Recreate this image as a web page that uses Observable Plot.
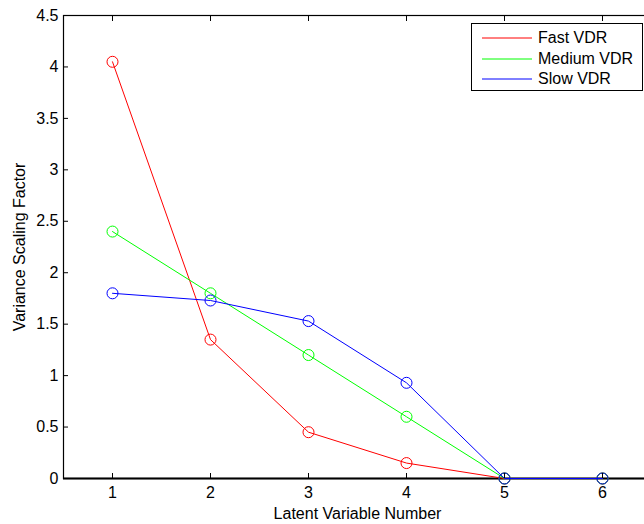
<!DOCTYPE html>
<html><head><meta charset="utf-8">
<script src="https://cdn.jsdelivr.net/npm/d3@7"></script>
<script src="https://cdn.jsdelivr.net/npm/@observablehq/plot@0.6"></script>
<style>
html,body{margin:0;padding:0;overflow:hidden;background:#fff;width:644px;height:524px}
#wrap{position:relative;width:644px;height:524px;overflow:hidden}
#legend{position:absolute;left:471px;top:23px;width:170px;height:66px;border:1.5px solid #000;background:#fff;font:16px "Liberation Sans",Arial,sans-serif;color:#000}
#legend .row{position:absolute;left:0;height:20px;width:170px}
#legend svg{position:absolute;left:10px;top:0}
#legend span{position:absolute;left:66px;top:0px;white-space:nowrap;line-height:20px}
</style></head><body><div id="wrap"></div>
<script>
const latentVariable = [1, 2, 3, 4, 5, 6];
const fastVDR = [4.05, 1.35, 0.45, 0.15, 0, 0];
const mediumVDR = [2.4, 1.8, 1.2, 0.6, 0, 0];
const slowVDR = [1.8, 1.73, 1.53, 0.93, 0, 0];
const seriesNames = ["Fast VDR", "Medium VDR", "Slow VDR"];
const seriesColors = ["#ff0000", "#00ff00", "#0000ff"];
const xTicks = [1, 2, 3, 4, 5, 6];
const yTicks = [0, 0.5, 1, 1.5, 2, 2.5, 3, 3.5, 4, 4.5];
const xLabel = "Latent Variable Number";
const yLabel = "Variance Scaling Factor";

const seriesValues = [fastVDR, mediumVDR, slowVDR];
const data = seriesValues.flatMap((vals, s) =>
  vals.map((v, i) => ({series: seriesNames[s], x: latentVariable[i], y: v})));

const font = '"Liberation Sans", Arial, Helvetica, sans-serif';

const marks = [
  Plot.frame({stroke: "#000", strokeWidth: 1.2}),
  Plot.ruleY([0], {stroke: "#000", strokeWidth: 2})
];
seriesNames.forEach((name, s) => {
  const d = data.filter(r => r.series === name);
  marks.push(Plot.line(d, {x: "x", y: "y", stroke: seriesColors[s], strokeWidth: 1}));
  marks.push(Plot.dot(d, {x: "x", y: "y", r: 5.5, stroke: seriesColors[s], fill: "none", strokeWidth: 1}));
});
marks.push(
  Plot.axisX(xTicks, {anchor: "bottom", tickSize: -5, tickPadding: 13, tickFormat: d => String(d),
    label: xLabel, labelAnchor: "center", labelOffset: 40, labelArrow: "none", stroke: "#000", fill: "#000"}),
  Plot.axisX(xTicks, {anchor: "top", tickSize: -5, tickFormat: () => "", label: null, stroke: "#000"}),
  Plot.axisY(yTicks, {anchor: "left", tickSize: -5, tickPadding: 10, tickFormat: d => String(d),
    label: yLabel, labelAnchor: "center", labelOffset: 50, labelArrow: "none", stroke: "#000", fill: "#000"}),
  Plot.axisY(yTicks, {anchor: "right", tickSize: -5, tickFormat: () => "", label: null, stroke: "#000"})
);

const chart = Plot.plot({
  width: 652,
  height: 524,
  marginLeft: 63,
  marginRight: 1,
  marginTop: 15,
  marginBottom: 46,
  style: {fontSize: "16px", fontFamily: font, color: "#000", background: "#fff", overflow: "visible", maxWidth: "none"},
  x: {domain: [0.5, 6.5]},
  y: {domain: [0, 4.5]},
  marks
});
chart.style.maxWidth = "none";
const wrap = document.getElementById("wrap");
wrap.appendChild(chart);

const legend = document.createElement("div");
legend.id = "legend";
const rowTops = [4, 25, 45];
seriesNames.forEach((name, s) => {
  const row = document.createElement("div");
  row.className = "row";
  row.style.top = rowTops[s] + "px";
  row.innerHTML = `<svg width="52" height="20"><line x1="0" x2="50" y1="10" y2="10" stroke="${seriesColors[s]}" stroke-width="1"/></svg><span>${name}</span>`;
  legend.appendChild(row);
});
wrap.appendChild(legend);
</script>
</body></html>
